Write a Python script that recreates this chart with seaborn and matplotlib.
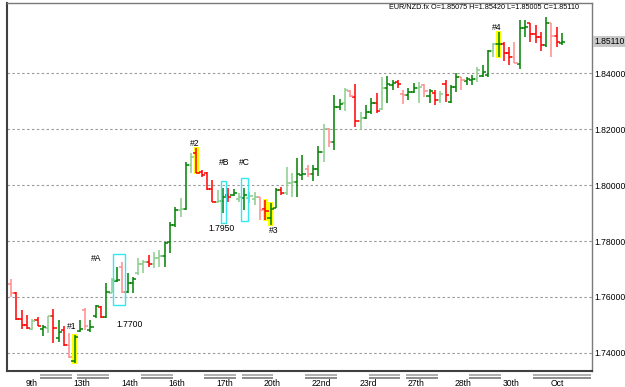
import numpy as np
import matplotlib
matplotlib.use("Agg")
import matplotlib.pyplot as plt
import matplotlib.transforms as mtransforms
from matplotlib.patches import Rectangle
import seaborn as sns

sns.set_style("white")
plt.rcParams['font.family'] = ['Liberation Sans', 'DejaVu Sans']

# ---------------- data ----------------
opens = [1.7646, 1.7614, 1.7520, 1.7500, 1.7487, 1.7518, 1.7486, 1.7489, 1.7532, 1.7454,
         1.7482, 1.7429, 1.7371, 1.7479, 1.7554, 1.7482, 1.7532, 1.7566, 1.7529, 1.7614,
         1.7657, 1.7708, 1.7619, 1.7651, 1.7686, 1.7718, 1.7726, 1.7718, 1.7738, 1.7746,
         1.7798, 1.7857, 1.7911, 1.7913, 1.8071, 1.8113, 1.8045, 1.8042, 1.7985, 1.7940,
         1.7943, 1.7964, 1.7964, 1.7949, 1.7952, 1.7952, 1.7949, 1.7956, 1.7913, 1.7881,
         1.7917, 1.7982, 1.7970, 1.8006, 1.8012, 1.8036, 1.8056, 1.8039, 1.8056, 1.8119,
         1.8199, 1.8155, 1.8280, 1.8292, 1.8337, 1.8315, 1.8230, 1.8238, 1.8262, 1.8294,
         1.8270, 1.8348, 1.8358, 1.8369, 1.8325, 1.8321, 1.8333, 1.8345, 1.8357, 1.8318,
         1.8327, 1.8304, 1.8361, 1.8298, 1.8349, 1.8387, 1.8373, 1.8375, 1.8377, 1.8389,
         1.8393, 1.8480, 1.8502, 1.8502, 1.8473, 1.8458, 1.8432, 1.8560, 1.8577, 1.8539,
         1.8527, 1.8500, 1.8577, 1.8532, 1.85075]
highs = [1.7664, 1.7619, 1.7554, 1.7536, 1.7521, 1.7529, 1.7500, 1.7532, 1.7557, 1.7518,
         1.7496, 1.7471, 1.7464, 1.7518, 1.7561, 1.7518, 1.7571, 1.7568, 1.7650, 1.7668,
         1.7708, 1.7726, 1.7686, 1.7671, 1.7739, 1.7732, 1.7750, 1.7762, 1.7768, 1.7798,
         1.7869, 1.7922, 1.7952, 1.8083, 1.8113, 1.8131, 1.8054, 1.8048, 1.8018, 1.7982,
         1.7988, 1.7988, 1.7985, 1.7970, 1.7988, 1.7976, 1.7976, 1.7958, 1.7946, 1.7935,
         1.7988, 1.7994, 1.8065, 1.8042, 1.8095, 1.8107, 1.8071, 1.8071, 1.8139, 1.8218,
         1.8202, 1.8321, 1.8306, 1.8345, 1.8339, 1.8361, 1.8262, 1.8286, 1.8310, 1.8327,
         1.8387, 1.8389, 1.8375, 1.8375, 1.8339, 1.8345, 1.8363, 1.8369, 1.8361, 1.8342,
         1.8339, 1.8337, 1.8375, 1.8357, 1.8401, 1.8387, 1.8387, 1.8393, 1.8422, 1.8429,
         1.8482, 1.8508, 1.8548, 1.8512, 1.8492, 1.8512, 1.8589, 1.8589, 1.8577, 1.8571,
         1.8548, 1.8601, 1.8577, 1.8565, 1.85420]
lows = [1.7600, 1.7518, 1.7485, 1.7486, 1.7482, 1.7496, 1.7461, 1.7471, 1.7436, 1.7440,
        1.7425, 1.7382, 1.7364, 1.7475, 1.7482, 1.7475, 1.7524, 1.7525, 1.7525, 1.7614,
        1.7654, 1.7613, 1.7613, 1.7614, 1.7679, 1.7686, 1.7708, 1.7702, 1.7708, 1.7708,
        1.7756, 1.7851, 1.7887, 1.7911, 1.8042, 1.8042, 1.8030, 1.7982, 1.7940, 1.7935,
        1.7899, 1.7940, 1.7961, 1.7940, 1.7911, 1.7935, 1.7929, 1.7875, 1.7875, 1.7857,
        1.7917, 1.7964, 1.7964, 1.7956, 1.7958, 1.8018, 1.8027, 1.8015, 1.8032, 1.8083,
        1.8135, 1.8125, 1.8268, 1.8265, 1.8313, 1.8208, 1.8196, 1.8234, 1.8254, 1.8256,
        1.8268, 1.8292, 1.8339, 1.8345, 1.8288, 1.8304, 1.8327, 1.8294, 1.8315, 1.8292,
        1.8286, 1.8292, 1.8298, 1.8292, 1.8333, 1.8339, 1.8357, 1.8357, 1.8369, 1.8387,
        1.8387, 1.8456, 1.8458, 1.8444, 1.8429, 1.8435, 1.8413, 1.8530, 1.8512, 1.8506,
        1.8480, 1.8494, 1.8458, 1.8494, 1.85005]
closes = [1.7614, 1.7521, 1.7500, 1.7489, 1.7514, 1.7497, 1.7493, 1.7532, 1.7489, 1.7475,
          1.7429, 1.7386, 1.7457, 1.7486, 1.7496, 1.7493, 1.7568, 1.7529, 1.7618, 1.7661,
          1.7661, 1.7617, 1.7651, 1.7663, 1.7718, 1.7726, 1.7718, 1.7738, 1.7745, 1.7792,
          1.7857, 1.7911, 1.7913, 1.8071, 1.8101, 1.8044, 1.8036, 1.7985, 1.7940, 1.7943,
          1.7958, 1.7958, 1.7973, 1.7958, 1.7964, 1.7961, 1.7958, 1.7911, 1.7908, 1.7913,
          1.7982, 1.7970, 1.8006, 1.8012, 1.8039, 1.8039, 1.8039, 1.8056, 1.8119, 1.8199,
          1.8155, 1.8280, 1.8289, 1.8339, 1.8318, 1.8230, 1.8238, 1.8262, 1.8294, 1.8265,
          1.8348, 1.8361, 1.8363, 1.8361, 1.8321, 1.8333, 1.8345, 1.8351, 1.8337, 1.8337,
          1.8304, 1.8325, 1.8321, 1.8349, 1.8387, 1.8375, 1.8377, 1.8377, 1.8411, 1.8404,
          1.8480, 1.8502, 1.8504, 1.8473, 1.8458, 1.8435, 1.8560, 1.8563, 1.8539, 1.8527,
          1.8500, 1.8577, 1.8532, 1.8512, 1.85110]
light_bars = [0, 4, 7, 11, 14, 19, 21, 24, 25, 27, 28, 32, 34, 39, 43, 45, 46, 47, 52, 53,
              56, 59, 60, 63, 64, 66, 70, 74, 77, 78, 81, 85, 88, 91, 95, 102]

price_ticks = [1.74, 1.76, 1.78, 1.80, 1.82, 1.84]
day_labels = ["9th", "13th", "14th", "16th", "17th", "20th", "22nd", "23rd",
              "27th", "28th", "30th", "Oct"]
day_label_bars = [4, 13, 22, 31, 40, 49, 58, 67, 76, 85, 94, 103]
day_groups = [(6, 11), (13, 18), (25, 30), (37, 42), (44, 49), (56, 61),
              (68, 73), (75, 80), (87, 92), (99, 109)]

highlight_bars = [12, 35, 48, 49, 92]
boxes = [(19.3, 21.5, 1.7571, 1.7754), (39.6, 40.5, 1.7863, 1.8014),
         (43.4, 44.7, 1.7873, 1.8024)]
notes = [("#1", 11.5, 1.7493), ("#A", 16.0, 1.7739), ("1.7700", 22.4, 1.7500),
         ("#2", 34.7, 1.8150), ("#B", 40.2, 1.8079), ("#C", 44.0, 1.8079),
         ("1.7950", 39.8, 1.7843), ("#3", 49.6, 1.7839), ("#4", 91.7, 1.8564)]
header = "EUR/NZD.fx O=1.85075 H=1.85420 L=1.85005 C=1.85110"
last_close = closes[-1]

# ---------------- figure ----------------
W, H = 625, 387
fig = plt.figure(figsize=(W / 100, H / 100), dpi=100)
fig.patch.set_facecolor("white")
ax = fig.add_axes([7.3 / W, 16 / H, 585 / W, 368.3 / H])
ax.set_facecolor("white")

x = np.arange(len(opens))
o = np.array(opens); h = np.array(highs); l = np.array(lows); c = np.array(closes)
up = c >= o
is_light = np.isin(x, light_bars)
cols = []
for k in range(len(x)):
    if up[k]:
        cols.append("#8ccb8c" if is_light[k] else "#008000")
    else:
        cols.append("#ff8c8c" if is_light[k] else "#ff0000")

# yellow highlights behind bars
for b in highlight_bars:
    ax.add_patch(Rectangle((b - 0.5, l[b] - 0.0003), 1.0, h[b] - l[b] + 0.0006,
                           facecolor="#ffff00", edgecolor="none", zorder=1))

ax.vlines(x, l, h, colors=cols, linewidth=1.1, zorder=3)
ax.hlines(o, x - 0.6, x, colors=cols, linewidth=1.1, zorder=3)
ax.hlines(c, x, x + 0.6, colors=cols, linewidth=1.1, zorder=3)

for (x0, x1, y0, y1) in boxes:
    ax.add_patch(Rectangle((x0, y0), x1 - x0, y1 - y0, facecolor="none",
                           edgecolor="#33e6f0", linewidth=1.0, zorder=4))

fs = 6.2
for (t, xi, yi) in notes:
    ax.text(xi, yi, t, fontsize=fs, ha="center", va="center", color="black", zorder=5)

ax.set_xlim(-0.7, 109.7)
ax.set_ylim(1.73357, 1.86511)

ax.set_yticks(price_ticks)
ax.set_yticklabels([f"{v:.5f}" for v in price_ticks])
ax.yaxis.tick_right()
ax.tick_params(axis="y", which="both", length=0, pad=1.2, labelsize=fs, labelcolor="black")
ax.set_xticks([])
ax.yaxis.grid(True, linestyle=(0, (2.2, 2.2)), color="#9a9a9a", linewidth=0.8)
ax.xaxis.grid(False)
ax.set_axisbelow(True)

for side in ["left", "bottom"]:
    ax.spines[side].set_color("#404040")
    ax.spines[side].set_linewidth(1.5)
for side in ["top", "right"]:
    ax.spines[side].set_color("#7a7a7a")
    ax.spines[side].set_linewidth(1.0)

# last price marker
trans_y = mtransforms.blended_transform_factory(ax.transAxes, ax.transData)
ax.text(1.0 + 1.8 / 585, last_close, f"{last_close:.5f}", transform=trans_y,
        fontsize=fs, ha="left", va="center", color="black",
        bbox=dict(boxstyle="square,pad=0.12", facecolor="#c8c8c8", edgecolor="none"),
        clip_on=False)

# header
ax.text(0.977, 0.986, header, transform=ax.transAxes, fontsize=5.2, ha="right",
        va="center", color="black")

# bottom day labels and group bars
trans_x = mtransforms.blended_transform_factory(ax.transData, ax.transAxes)
for lab, b in zip(day_labels, day_label_bars):
    ax.text(b - 1.25, -0.033, lab, transform=trans_x, fontsize=fs, ha="left",
            va="center", color="black", clip_on=False)
for (b0, b1) in day_groups:
    ax.plot([b0 - 0.5, b1 + 0.5], [-0.0108, -0.0108], transform=trans_x, color="#9a9a9a",
            linewidth=1.1, clip_on=False, solid_capstyle="butt")
    ax.plot([b0 - 0.5, b1 + 0.5], [-0.0185, -0.0185], transform=trans_x, color="#6e6e6e",
            linewidth=1.1, clip_on=False, solid_capstyle="butt")

fig.savefig("out.png", dpi=100)
